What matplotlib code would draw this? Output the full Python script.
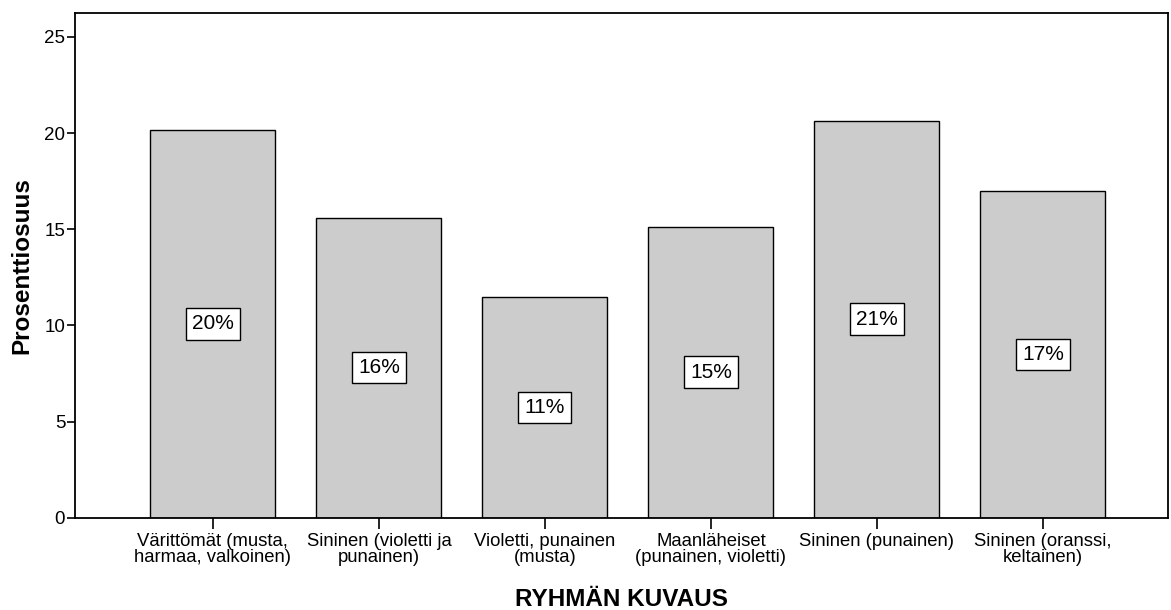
import matplotlib
matplotlib.use("Agg")
import matplotlib.pyplot as plt

categories = [
    "Värittömät (musta,\nharmaa, valkoinen)",
    "Sininen (violetti ja\npunainen)",
    "Violetti, punainen\n(musta)",
    "Maanläheiset\n(punainen, violetti)",
    "Sininen (punainen)",
    "Sininen (oranssi,\nkeltainen)",
]
values = [20.17, 15.61, 11.50, 15.14, 20.65, 17.00]
bar_labels = ["20%", "16%", "11%", "15%", "21%", "17%"]
yticks = [0, 5, 10, 15, 20, 25]

plt.rcParams['font.family'] = ['Liberation Sans', 'DejaVu Sans']

fig = plt.figure(figsize=(11.71, 6.10), dpi=100)
ax = fig.add_axes([0.064, 0.151, 0.9334, 0.828])

x = list(range(len(categories)))
ax.bar(x, values, width=0.753, color="#cccccc", edgecolor="black", linewidth=1.0)

for xi, v, lab in zip(x, values, bar_labels):
    ax.text(xi, v / 2, lab, ha="center", va="center", fontsize=15,
            bbox=dict(boxstyle="square,pad=0.3", facecolor="white", edgecolor="black", linewidth=1.0))

ax.set_xlim(-0.831, 5.753)
ax.set_ylim(0, 26.25)
ax.set_yticks(yticks)
ax.set_yticklabels([str(t) for t in yticks], fontsize=13.5)
ax.set_xticks(x)
ax.set_xticklabels(categories, fontsize=13.3, linespacing=0.92)
ax.tick_params(axis="y", direction="out", length=6, width=1.2, pad=1)
ax.tick_params(axis="x", direction="out", length=8, width=1.2, pad=3)
for s in ax.spines.values():
    s.set_linewidth(1.3)

ax.set_ylabel("Prosenttiosuus", fontsize=17.5, fontweight="bold", labelpad=8)
ax.set_xlabel("RYHMÄN KUVAUS", fontsize=17.5, fontweight="bold", labelpad=16)

fig.savefig("out.png", dpi=100)
